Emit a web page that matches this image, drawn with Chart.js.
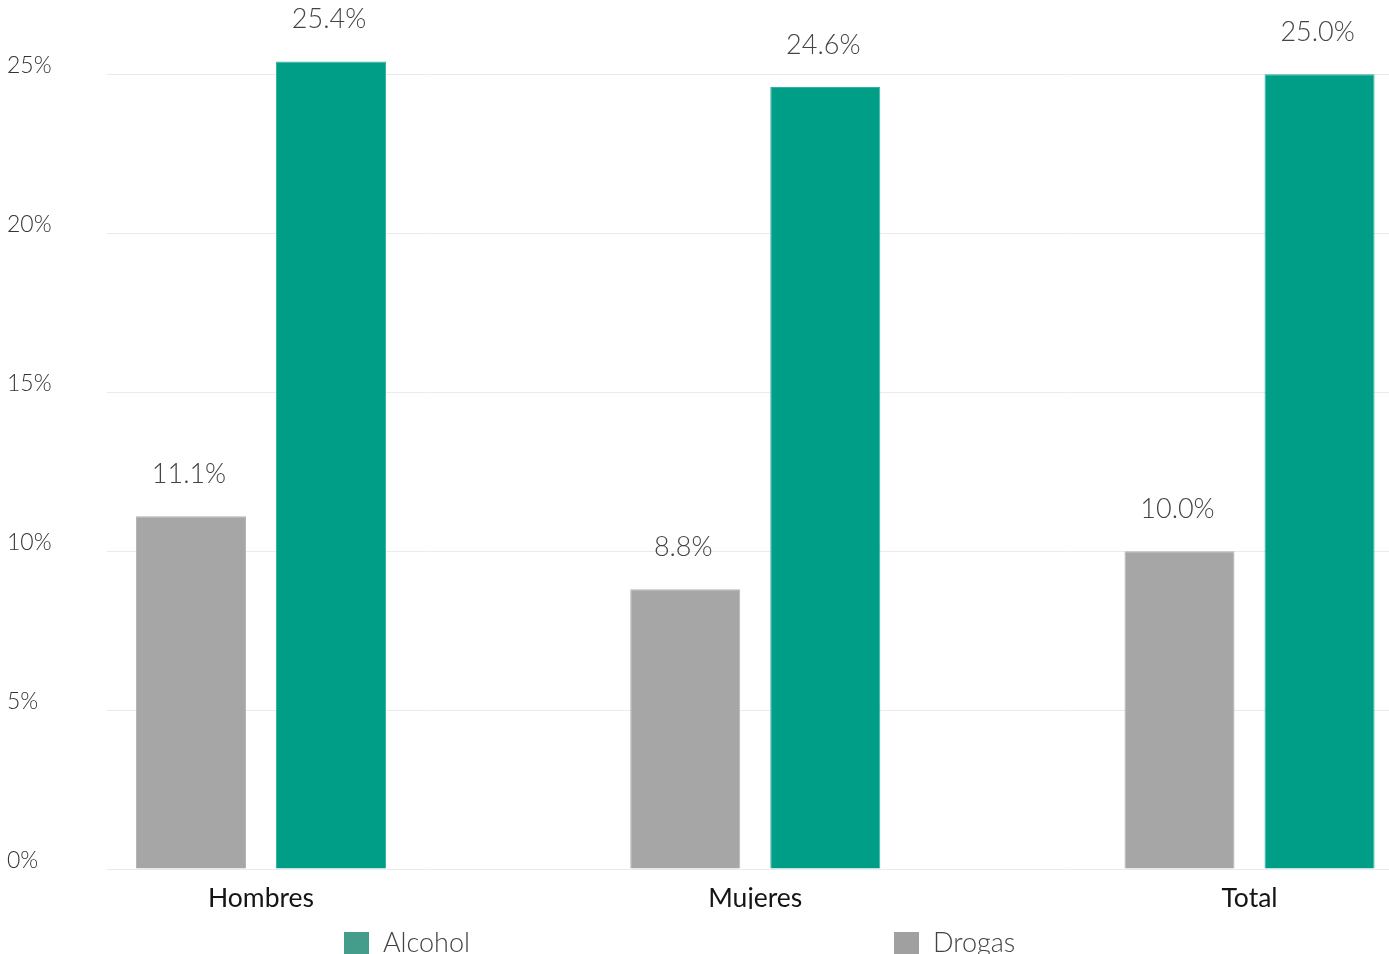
<!DOCTYPE html>
<html>
<head>
<meta charset="utf-8">
<script src="https://cdn.jsdelivr.net/npm/chart.js@4/dist/chart.umd.min.js"></script>
<style>
  body { margin: 0; overflow: hidden; background: #fff; }
  #wrap { width: 1389px; height: 954px; }
</style>
</head>
<body>
<div id="wrap"><canvas id="chart"></canvas></div>
<script>
// categories and values (percent)
const categories = ['Hombres', 'Mujeres', 'Total'];
const drogas = [11.1, 8.8, 10.0];
const alcohol = [25.4, 24.6, 25.0];
const yTicks = [0, 5, 10, 15, 20, 25];

const GREEN = '#009e87';
const GRAY = '#a6a6a6';

// value labels above each bar
const valueLabels = {
  id: 'valueLabels',
  afterDatasetsDraw(chart) {
    const ctx = chart.ctx;
    ctx.save();
    ctx.font = '300 27px Lato';
    ctx.fillStyle = '#444';
    ctx.textAlign = 'center';
    ctx.textBaseline = 'middle';
    chart.data.datasets.forEach((ds, di) => {
      chart.getDatasetMeta(di).data.forEach((bar, i) => {
        ctx.fillText(ds.data[i].y.toFixed(1) + '%', bar.x - 2, bar.y - 42);
      });
    });
    ctx.restore();
  }
};

// legend drawn at the bottom, Alcohol first, items spread wide
const wideLegend = {
  id: 'wideLegend',
  afterDraw(chart) {
    const ctx = chart.ctx;
    const items = [
      { text: chart.data.datasets[1].label, color: '#449d8a', x: 344 },
      { text: chart.data.datasets[0].label, color: '#a0a0a0', x: 894 }
    ];
    const y = 943;
    ctx.save();
    ctx.font = '300 27px Lato';
    ctx.textAlign = 'left';
    ctx.textBaseline = 'middle';
    items.forEach(it => {
      ctx.fillStyle = it.color;
      ctx.fillRect(it.x, y - 11, 25, 23);
      ctx.fillStyle = '#444';
      ctx.fillText(it.text, it.x + 39, y);
    });
    ctx.restore();
  }
};

new Chart(document.getElementById('chart'), {
  type: 'bar',
  data: {
    datasets: [
      {
        label: 'Drogas',
        data: drogas.map((v, i) => ({ x: i, y: v })),
        backgroundColor: GRAY,
        borderColor: '#b4b4b4',
        borderWidth: 1
      },
      {
        label: 'Alcohol',
        data: alcohol.map((v, i) => ({ x: i, y: v })),
        backgroundColor: GREEN,
        borderColor: '#2fb39f',
        borderWidth: 1
      }
    ]
  },
  options: {
    responsive: true,
    maintainAspectRatio: false,
    animation: false,
    categoryPercentage: 0.5667,
    barPercentage: 0.7857,
    layout: { padding: { left: 7, right: 0, top: 0, bottom: 45 } },
    scales: {
      x: {
        type: 'linear',
        offset: false,
        min: -0.3116,
        max: 2.2822,
        afterBuildTicks: (scale) => {
          scale.ticks = categories.map((c, i) => ({ value: i }));
        },
        afterFit: (scale) => { scale.height = 40; },
        grid: { display: false },
        border: { display: false },
        ticks: {
          callback: (v) => categories[v],
          color: '#151515',
          font: { family: 'Lato', size: 26.5, weight: 'normal' },
          padding: 6,
          maxRotation: 0
        }
      },
      y: {
        min: 0,
        max: 26.47,
        afterBuildTicks: (scale) => {
          scale.ticks = yTicks.map(v => ({ value: v }));
        },
        afterFit: (scale) => { scale.width = 100; },
        grid: { color: '#ebebeb', lineWidth: 1, drawTicks: false },
        border: { display: false },
        ticks: {
          callback: (v) => v + '%',
          align: 'end',
          crossAlign: 'far',
          labelOffset: 3,
          color: '#333',
          font: { family: 'Lato', size: 23, weight: '300' },
          padding: 0
        }
      }
    },
    plugins: {
      legend: { display: false },
      tooltip: { enabled: false }
    }
  },
  plugins: [valueLabels, wideLegend]
});
</script>
</body>
</html>
